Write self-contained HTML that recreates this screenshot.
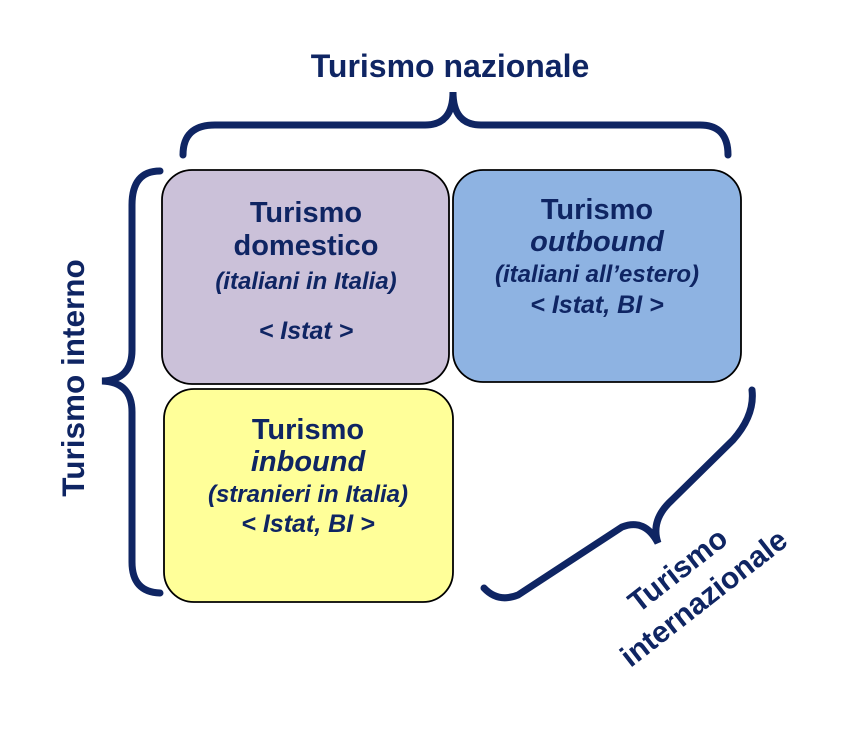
<!DOCTYPE html>
<html><head><meta charset="utf-8"><style>
body{margin:0;background:#fff;}
svg text{font-family:"Liberation Sans",Arial,sans-serif;font-weight:bold;fill:#0f2563;}
</style></head><body>
<svg width="855" height="736" viewBox="0 0 855 736" xmlns="http://www.w3.org/2000/svg">
<rect x="162" y="170" width="287" height="214" rx="30" fill="#cbc1d9" stroke="#000" stroke-width="1.8"/>
<rect x="453" y="170" width="288" height="212" rx="30" fill="#8eb3e2" stroke="#000" stroke-width="1.8"/>
<rect x="164" y="389" width="289" height="213" rx="30" fill="#ffff99" stroke="#000" stroke-width="1.8"/>
<g fill="none" stroke="#0f2563" stroke-width="7" stroke-linecap="round">
<path d="M183,155 Q183,125 215,125 L425,125 Q453,125 453,92 Q453,125 481,125 L700,125 Q728,125 728,155"/>
<path d="M160,171 Q132,171 132,205 L132,350 Q132,380 102,381 Q132,382 132,412 L132,562 Q132,592 160,593"/>
<path d="M484,588 Q498,603 518,595 L622,527 Q645,518 658,543 Q650,520 672,500 L733,440 Q755,415 752,390"/>
</g>
<text x="450" y="77" font-size="32" text-anchor="middle">Turismo nazionale</text>
<text transform="translate(84,378) rotate(-90)" font-size="31.5" text-anchor="middle">Turismo interno</text>
<text transform="translate(684,578) rotate(-38)" font-size="30" text-anchor="middle">Turismo</text>
<text transform="translate(710,606) rotate(-38)" font-size="30" text-anchor="middle">internazionale</text>
<g text-anchor="middle">
<text x="306" y="222" font-size="29">Turismo</text>
<text x="306" y="255" font-size="29">domestico</text>
<text x="306" y="289" font-size="24" font-style="italic">(italiani in Italia)</text>
<text x="306" y="339" font-size="25" font-style="italic">&lt; Istat &gt;</text>
<text x="597" y="219" font-size="29">Turismo</text>
<text x="597" y="251" font-size="29" font-style="italic">outbound</text>
<text x="597" y="282" font-size="24" font-style="italic">(italiani all’estero)</text>
<text x="597" y="313" font-size="25" font-style="italic">&lt; Istat, BI &gt;</text>
<text x="308" y="439" font-size="29">Turismo</text>
<text x="308" y="471" font-size="29" font-style="italic">inbound</text>
<text x="308" y="502" font-size="24" font-style="italic">(stranieri in Italia)</text>
<text x="308" y="532" font-size="25" font-style="italic">&lt; Istat, BI &gt;</text>
</g>
</svg>
</body></html>
